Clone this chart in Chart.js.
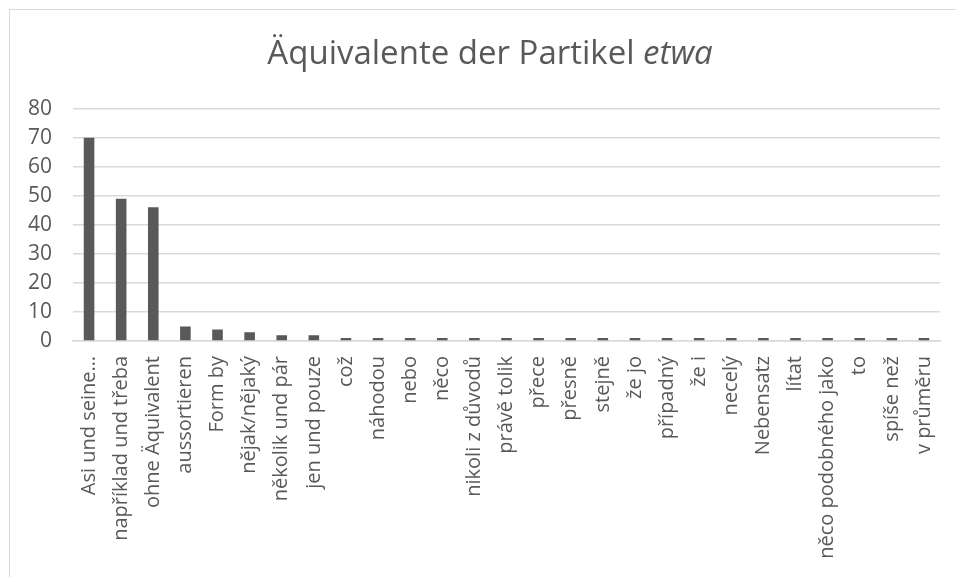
<!DOCTYPE html>
<html>
<head>
<meta charset="utf-8">
<script src="https://cdn.jsdelivr.net/npm/chart.js@4/dist/chart.umd.min.js"></script>
<style>
    body { margin: 0; background: #fff; overflow: hidden; }
    #wrap { position: relative; width: 956px; height: 577px; }
    #frame {
        position: absolute; left: 9px; top: 9px;
        width: 1000px; height: 620px;
        border: 1.5px solid #d9d9d9;
        pointer-events: none;
    }
</style>
</head>
<body>
<div id="wrap">
    <canvas id="etwaChart" width="956" height="577"></canvas>
    <div id="frame"></div>
</div>
<script>
// ======= Daten =======
const categories = [
    "Asi und seine…", "například und třeba", "ohne Äquivalent", "aussortieren",
    "Form by", "nějak/nějaký", "několik und pár", "jen und pouze", "což",
    "náhodou", "nebo", "něco", "nikoli z důvodů", "právě tolik", "přece",
    "přesně", "stejně", "že jo", "případný", "že i", "necelý", "Nebensatz",
    "lítat", "něco podobného jako", "to", "spíše než", "v průměru"
];
const counts = [70, 49, 46, 5, 4, 3, 2, 2, 1, 1, 1, 1, 1, 1, 1, 1, 1, 1, 1, 1, 1, 1, 1, 1, 1, 1, 1];
const yTicks = [0, 10, 20, 30, 40, 50, 60, 70, 80];

const textColor = "#595959";
const gridColor = "#d9d9d9";
const titleSize = 33;

const ctx = document.getElementById("etwaChart").getContext("2d");

// ======= Balkendiagramm =======
const etwaChart = new Chart(ctx, {
    type: "bar",
    data: {
        labels: categories,
        datasets: [{
            label: "Anzahl",
            data: counts,
            backgroundColor: "#595959",
            barPercentage: 0.33,
            categoryPercentage: 1.0
        }]
    },
    options: {
        responsive: false,
        animation: false,
        layout: {
            padding: { left: 28, right: 16, top: 10, bottom: 0 }
        },
        plugins: {
            legend: { display: false },
            tooltip: { enabled: false },
            title: {
                // Platz reservieren, gezeichnet wird unten (wegen kursivem "etwa")
                display: true,
                text: "Äquivalente der Partikel etwa",
                color: "rgba(0,0,0,0)",
                font: { family: "Open Sans", size: titleSize, weight: "normal" },
                padding: { top: 25, bottom: 34 }
            }
        },
        scales: {
            x: {
                grid: { display: false, drawTicks: false },
                border: { color: gridColor, width: 1.5 },
                ticks: {
                    color: textColor,
                    font: { family: "Open Sans", size: 20 },
                    minRotation: 90,
                    maxRotation: 90,
                    autoSkip: false,
                    padding: 15
                },
                afterFit: scale => {
                    scale.height = 236;
                    scale.paddingLeft = 0;
                    scale.paddingRight = 0;
                }
            },
            y: {
                min: 0,
                max: 80,
                afterBuildTicks: scale => {
                    scale.ticks = yTicks.map(v => ({ value: v }));
                },
                grid: { color: gridColor, lineWidth: 1.5, drawTicks: false },
                border: { display: false },
                ticks: {
                    color: textColor,
                    font: { family: "Open Sans", size: 21 },
                    padding: 21,
                    autoSkip: false
                },
                afterFit: scale => { scale.width = 45; }
            }
        }
    },
    plugins: [{
        id: "italicTitle",
        afterDraw(chart) {
            const t = chart.titleBlock;
            if (!t) return;
            const c = chart.ctx;
            const plain = "Äquivalente der Partikel ";
            c.save();
            c.font = `${titleSize}px 'Open Sans'`;
            const plainW = c.measureText(plain).width;
            c.font = `italic ${titleSize}px 'Open Sans'`;
            const italW = c.measureText("etwa").width;
            const cx = (t.left + t.right) / 2 + 6;
            const x0 = cx - (plainW + italW) / 2;
            const y = t.top + 25 + titleSize * 1.2 / 2;
            c.fillStyle = textColor;
            c.textBaseline = "middle";
            c.textAlign = "left";
            c.font = `${titleSize}px 'Open Sans'`;
            c.fillText(plain, x0, y);
            c.font = `italic ${titleSize}px 'Open Sans'`;
            c.fillText("etwa", x0 + plainW, y);
            c.restore();
        }
    }]
});
</script>
</body>
</html>
